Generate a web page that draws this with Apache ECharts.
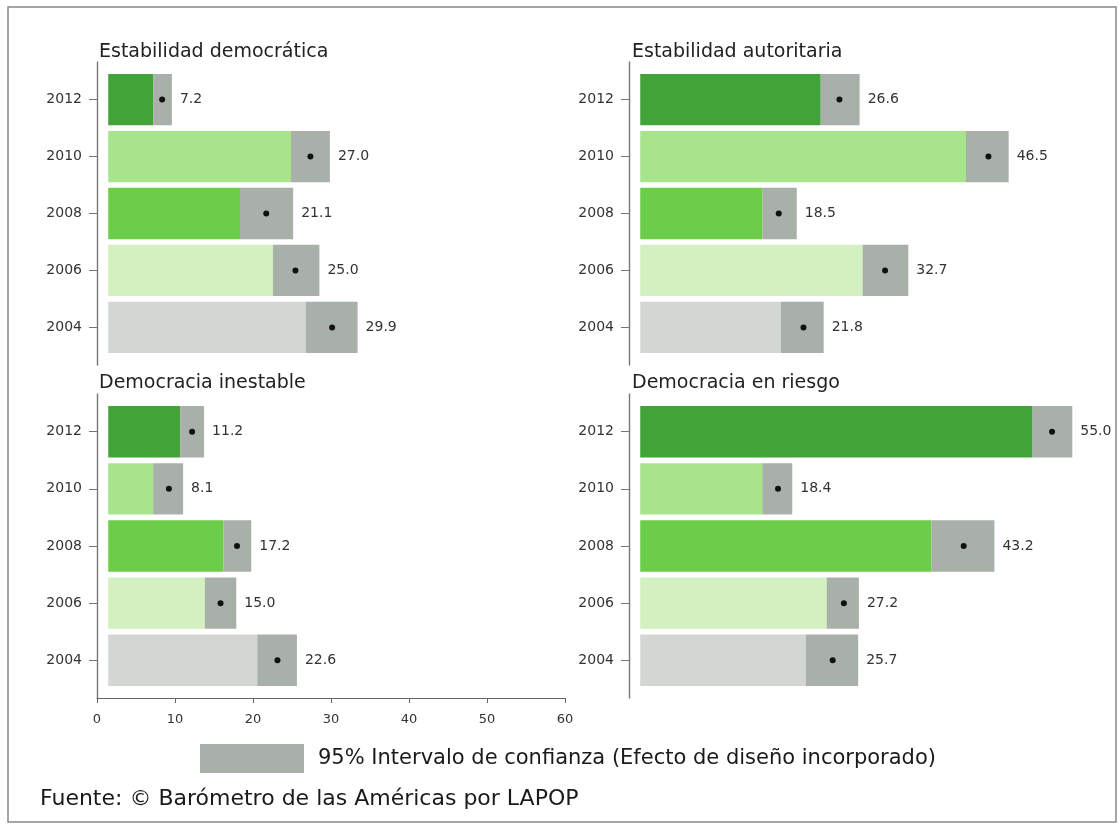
<!DOCTYPE html>
<html><head><meta charset="utf-8">
<script src="https://cdn.jsdelivr.net/npm/echarts@6/dist/echarts.min.js"></script>
<style>html,body{margin:0;padding:0;background:#fff}#c{width:1119px;height:825px}</style>
</head><body><div id="c"></div>
<script>
// ---- data ----
const years = ['2012', '2010', '2008', '2006', '2004'];
const panelTitles = ['Estabilidad democrática', 'Estabilidad autoritaria', 'Democracia inestable', 'Democracia en riesgo'];

const estDemMean = [7.2, 27.0, 21.1, 25.0, 29.9];
const estDemLow  = [6.0, 24.4, 17.6, 22.0, 26.4];
const estDemHigh = [8.5, 29.6, 24.7, 28.2, 33.3];

const estAutMean = [26.6, 46.5, 18.5, 32.7, 21.8];
const estAutLow  = [24.1, 43.5, 16.3, 29.7, 18.8];
const estAutHigh = [29.3, 49.2, 20.9, 35.8, 24.5];

const demInestMean = [11.2, 8.1, 17.2, 15.0, 22.6];
const demInestLow  = [9.6, 6.0, 15.4, 12.9, 19.9];
const demInestHigh = [12.8, 10.0, 19.1, 17.1, 25.2];

const demRiesgoMean = [55.0, 18.4, 43.2, 27.2, 25.7];
const demRiesgoLow  = [52.4, 16.3, 38.9, 24.9, 22.1];
const demRiesgoHigh = [57.7, 20.3, 47.3, 29.2, 29.1];

const xTicks = [0, 10, 20, 30, 40, 50, 60];
const legendName = '95% Intervalo de confianza (Efecto de diseño incorporado)';
const sourceText = 'Fuente: © Barómetro de las Américas por LAPOP';

// ---- styling / layout ----
const yearColors = ['#42a338', '#a8e48c', '#6ccd48', '#d3f1c0', '#d3d7d4'];
const ciColor = '#a9afa9';
const FONT = '"DejaVu Sans", Verdana, sans-serif';

const panels = [
  {mean: estDemMean, low: estDemLow, high: estDemHigh},
  {mean: estAutMean, low: estAutLow, high: estAutHigh},
  {mean: demInestMean, low: demInestLow, high: demInestHigh},
  {mean: demRiesgoMean, low: demRiesgoLow, high: demRiesgoHigh}
];
const gridPos = [
  {left: 97, top: 62, width: 468, height: 303},
  {left: 629, top: 62, width: 468, height: 303},
  {left: 97, top: 394, width: 468, height: 304},
  {left: 629, top: 394, width: 468, height: 304}
];
const titlePos = [
  {left: 99, top: 43}, {left: 632, top: 43}, {left: 99, top: 374}, {left: 632, top: 374}
];

const yIdx = years.map((y, i) => i);

function barItem(params, api) {
  const i = api.value(0), lo = api.value(1);
  const p0 = api.coord([0, i]), p1 = api.coord([lo, i]);
  const h = api.size([0, 1])[1] * 0.9;
  return {type: 'rect', shape: {x: p0[0], y: p0[1] - h / 2, width: p1[0] - p0[0], height: h},
          style: {fill: yearColors[i]}};
}
function ciItem(params, api) {
  const i = api.value(0), lo = api.value(1), hi = api.value(2), m = api.value(3);
  const p0 = api.coord([lo, i]), p1 = api.coord([hi, i]), pm = api.coord([m, i]);
  const h = api.size([0, 1])[1] * 0.9;
  return {type: 'group', children: [
    {type: 'rect', shape: {x: p0[0], y: p0[1] - h / 2, width: p1[0] - p0[0], height: h}, style: {fill: ciColor}},
    {type: 'circle', shape: {cx: pm[0], cy: pm[1], r: 3}, style: {fill: '#111'}},
    {type: 'text', x: p1[0] + 8, y: p1[1], style: {text: m.toFixed(1), fill: '#333',
      font: '14px ' + FONT, verticalAlign: 'middle', align: 'left'}}
  ]};
}

const grid = gridPos.map(g => Object.assign({}, g));
const xAxis = gridPos.map((g, k) => ({
  type: 'value', gridIndex: k, min: -1.5, max: 61, show: false
}));
xAxis.push({
  type: 'value', gridIndex: 2, min: xTicks[0], max: xTicks[xTicks.length - 1], interval: 10,
  position: 'bottom',
  axisLine: {show: true, onZero: false, lineStyle: {color: '#666', width: 1.2}},
  axisTick: {show: true, length: 5, lineStyle: {color: '#666'}},
  axisLabel: {color: '#333', fontSize: 13, fontFamily: FONT, margin: 15},
  splitLine: {show: false}
});
const yAxis = gridPos.map((g, k) => ({
  type: 'value', gridIndex: k, inverse: true, min: -0.66, max: 4.66,
  axisLine: {show: true, onZero: false, lineStyle: {color: '#777', width: 1.4}},
  axisTick: {show: true, length: 8, customValues: yIdx, lineStyle: {color: '#777'}},
  axisLabel: {show: true, customValues: yIdx, formatter: v => years[v], color: '#333',
              fontSize: 14, fontFamily: FONT, margin: 15},
  splitLine: {show: false}
}));

const series = [];
panels.forEach((p, k) => {
  series.push({
    type: 'custom', name: 'barras' + k, xAxisIndex: k, yAxisIndex: k,
    renderItem: barItem, encode: {x: 1, y: 0},
    data: yIdx.map(i => [i, p.low[i]]), silent: true
  });
  series.push({
    type: 'custom', name: legendName, xAxisIndex: k, yAxisIndex: k,
    itemStyle: {color: ciColor}, renderItem: ciItem, encode: {x: [1, 2, 3], y: 0},
    data: yIdx.map(i => [i, p.low[i], p.high[i], p.mean[i]]), silent: true
  });
});

const title = panelTitles.map((t, k) => ({
  text: t, left: titlePos[k].left, top: titlePos[k].top, padding: 0,
  textStyle: {fontSize: 19, fontWeight: 'normal', color: '#222', fontFamily: FONT}
}));
title.push({
  text: sourceText, left: 40, top: 788, padding: 0,
  textStyle: {fontSize: 22, fontWeight: 'normal', color: '#1a1a1a', fontFamily: FONT}
});

const option = {
  backgroundColor: '#fff',
  animation: false,
  title: title,
  grid: grid,
  xAxis: xAxis,
  yAxis: yAxis,
  legend: {
    data: [legendName], left: 200, top: 744, padding: 0, itemWidth: 104, itemHeight: 29,
    icon: 'rect', selectedMode: false,
    textStyle: {fontSize: 21, color: '#1a1a1a', fontFamily: FONT, padding: [0, 0, 0, 9]}
  },
  graphic: [{
    type: 'rect', shape: {x: 8, y: 7, width: 1108, height: 815},
    style: {fill: 'none', stroke: '#888', lineWidth: 1.5}, silent: true
  }],
  series: series
};
const chart = echarts.init(document.getElementById('c'));
chart.setOption(option);
</script>
</body></html>
